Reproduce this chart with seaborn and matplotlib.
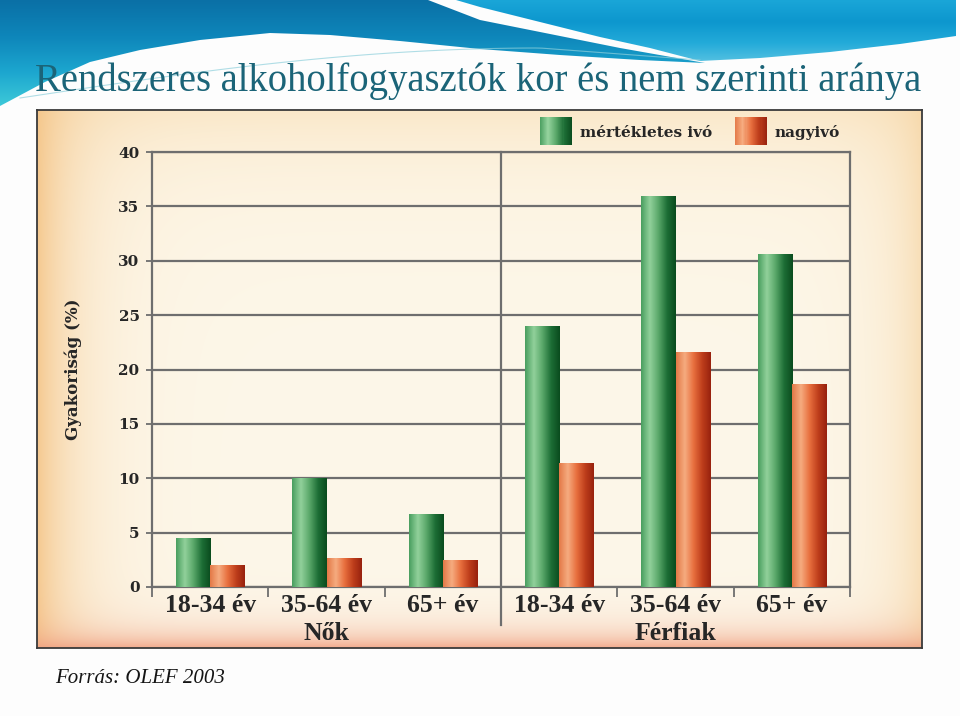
import numpy as np
import pandas as pd
import matplotlib
matplotlib.use("Agg")
import matplotlib.pyplot as plt
import seaborn as sns
from matplotlib.colors import LinearSegmentedColormap, to_rgb
from matplotlib.patches import Polygon, Rectangle
from matplotlib.legend_handler import HandlerBase
from matplotlib.ticker import FixedLocator
import matplotlib.transforms as mtransforms

# ---------------- data ----------------
title = "Rendszeres alkoholfogyasztók kor és nem szerinti aránya"
source = "Forrás: OLEF 2003"
age_labels = ["18-34 év", "35-64 év", "65+ év"]
sex_labels = ["Nők", "Férfiak"]
series_names = ["mértékletes ivó", "nagyivó"]
moderate_women = [4.55, 10.0, 6.75]
heavy_women = [2.0, 2.7, 2.5]
moderate_men = [24.0, 36.0, 30.6]
heavy_men = [11.4, 21.6, 18.7]
y_ticks = [0, 5, 10, 15, 20, 25, 30, 35, 40]
y_label = "Gyakoriság (%)"

rows = []
for sex, mod, hev in [(sex_labels[0], moderate_women, heavy_women),
                      (sex_labels[1], moderate_men, heavy_men)]:
    for age, m, h in zip(age_labels, mod, hev):
        key = f"{sex} {age}"
        rows.append({"kat": key, "nem": sex, "kor": age, "csoport": series_names[0], "ertek": m})
        rows.append({"kat": key, "nem": sex, "kor": age, "csoport": series_names[1], "ertek": h})
df = pd.DataFrame(rows)
order = [f"{s} {a}" for s in sex_labels for a in age_labels]

# ---------------- styles ----------------
green_flat = "#2f8a4a"
orange_flat = "#d9622f"
green_stops = ["#4a9f60", "#92d19b", "#5aa86a", "#1d6e36", "#0a4c1e"]
orange_stops = ["#e47a48", "#f6ac80", "#e8703f", "#bf3f1c", "#98220e"]
grid_c = "#6e6e6e"
serif_bold = dict(family="DejaVu Serif", fontweight="bold", color="#262626")
times_bold = dict(family="Liberation Serif", fontweight="bold", color="#262626")

W_PX, H_PX = 960, 716
fig = plt.figure(figsize=(9.6, 7.16), dpi=100)
fig.patch.set_facecolor("#fdfdfd")

# ---------------- background swoosh ----------------
bg = fig.add_axes([0, 0, 1, 1], zorder=-10)
bg.set_xlim(0, W_PX)
bg.set_ylim(H_PX, 0)
bg.axis("off")

def grad_fill(ax, poly_pts, colors, extent):
    poly = Polygon(poly_pts, closed=True, facecolor="none", edgecolor="none")
    ax.add_patch(poly)
    cmap = LinearSegmentedColormap.from_list("sw", colors)
    arr = cmap(np.linspace(0, 1, 128))[:, None, :]
    im = ax.imshow(arr, extent=extent, aspect="auto", origin="upper",
                   interpolation="bicubic", zorder=1)
    im.set_clip_path(poly)

left_pts = [(0, 0), (428, 0), (480, 20), (560, 36), (620, 48), (705, 63),
            (640, 60), (560, 55), (480, 49), (400, 41), (330, 35), (270, 33),
            (200, 40), (140, 50), (90, 62), (45, 82), (0, 106)]
grad_fill(bg, left_pts, ["#0a70a6", "#0e86ba", "#1ca6cf", "#3fcbd9"], [0, 710, 108, 0])

right_pts = [(456, 0), (956, 0), (956, 36), (900, 44), (830, 52), (760, 58),
             (700, 61), (650, 48), (600, 37), (540, 22), (480, 7)]
grad_fill(bg, right_pts, ["#1aa6d8", "#0d97ce", "#22aad9", "#59c3e2"], [440, 960, 64, 0])

# thin decorative line
xs = np.linspace(20, 700, 100)
ys = 98 - 50 * np.sin(np.clip((xs - 20) / 520, 0, 1) * np.pi / 2) + 12 * np.clip((xs - 540) / 160, 0, 1)
bg.plot(xs, ys, color="#8fd0dc", lw=0.8, alpha=0.7, zorder=2)

bg.set_xlim(0, W_PX)
bg.set_ylim(H_PX, 0)

fig.text(35 / W_PX, 1 - 91 / H_PX, title, ha="left", va="baseline",
         family="Liberation Serif", fontsize=27.8, color="#1b6478")
fig.text(55 / W_PX, 1 - 683 / H_PX, source, ha="left", va="baseline",
         family="Liberation Serif", fontstyle="italic", fontsize=15, color="#151515")

# ---------------- chart panel ----------------
px0, px1, py0, py1 = 37, 922, 110, 648
panel = fig.add_axes([px0 / W_PX, 1 - py1 / H_PX, (px1 - px0) / W_PX, (py1 - py0) / H_PX], zorder=-5)
PW, PH = px1 - px0, py1 - py0
yy, xx = np.mgrid[0:PH:270j, 0:PW:440j]
img = np.ones((270, 440, 3)) * np.array(to_rgb("#fdf7e9"))
for col, w in [("#f8dcb0", 0.55 * np.exp(-yy / 60)),
               ("#f4c282", 0.85 * np.exp(-xx / 40)),
               ("#f5cf98", 0.6 * np.exp(-(PW - xx) / 35)),
               ("#f0a182", 0.85 * np.exp(-(PH - yy) / 16))]:
    img = img * (1 - w[..., None]) + np.array(to_rgb(col)) * w[..., None]
panel.imshow(img, extent=[0, 1, 0, 1], aspect="auto", interpolation="bicubic")
panel.set_xticks([])
panel.set_yticks([])
for s in panel.spines.values():
    s.set_color("#3a3a3a")
    s.set_linewidth(1.3)

# ---------------- main plot ----------------
ax0, ax1, ay0, ay1 = 152, 850, 152, 587
ax = fig.add_axes([ax0 / W_PX, 1 - ay1 / H_PX, (ax1 - ax0) / W_PX, (ay1 - ay0) / H_PX], zorder=1)
ax.set_facecolor("none")

sns.barplot(data=df, x="kat", y="ertek", hue="csoport", order=order,
            hue_order=series_names, palette=[green_flat, orange_flat],
            width=0.585, saturation=1, edgecolor="none", linewidth=0,
            legend=False, ax=ax, zorder=3)

gcmap = LinearSegmentedColormap.from_list("g", green_stops)
ocmap = LinearSegmentedColormap.from_list("o", orange_stops)
garr = gcmap(np.linspace(0, 1, 64))[None, :, :]
oarr = ocmap(np.linspace(0, 1, 64))[None, :, :]
gref = np.array(to_rgb(green_flat))
for p in list(ax.patches):
    if p.get_height() <= 0:
        continue
    fc = np.array(p.get_facecolor()[:3])
    arr = garr if np.allclose(fc, gref, atol=0.02) else oarr
    x0, w, y0, h = p.get_x(), p.get_width(), p.get_y(), p.get_height()
    im = ax.imshow(arr, extent=[x0, x0 + w, y0, y0 + h], aspect="auto",
                   interpolation="bilinear", zorder=3.5)
    im.set_clip_path(p)

ax.set_xlim(-0.5, 5.5)
ax.set_ylim(0, 40)

ax.set_yticks(y_ticks)
ax.set_yticklabels([str(t) for t in y_ticks], **serif_bold, fontsize=11)
ax.yaxis.grid(True, color=grid_c, lw=1.6)
ax.xaxis.grid(False)
ax.set_axisbelow(True)
for s in ax.spines.values():
    s.set_visible(True)
    s.set_color(grid_c)
    s.set_linewidth(1.6)
ax.tick_params(axis="y", length=4, width=1.3, color=grid_c, pad=5)

ax.set_xticks(range(len(order)))
ax.set_xticklabels(age_labels * 2, **times_bold, fontsize=18.5)
ax.tick_params(axis="x", which="major", length=0, pad=5)
ax.xaxis.set_minor_locator(FixedLocator([-0.5, 0.5, 1.5, 3.5, 4.5, 5.5]))
ax.tick_params(axis="x", which="minor", length=7, width=1.3, color=grid_c)

ax.set_xlabel("")
ax.set_ylabel(y_label, **serif_bold, fontsize=12)
ax.yaxis.set_label_coords(-0.1, 0.5)

# group separator
ax.axvline(2.5, ymin=-0.087, ymax=1, color=grid_c, lw=1.6, clip_on=False, zorder=4)

trans = mtransforms.blended_transform_factory(ax.transData, ax.transAxes)
ax.text(1, -0.107, sex_labels[0], transform=trans, ha="center", va="center", **times_bold, fontsize=18.5)
ax.text(4, -0.107, sex_labels[1], transform=trans, ha="center", va="center", **times_bold, fontsize=18.5)

# ---------------- legend ----------------
class GradHandler(HandlerBase):
    def __init__(self, cmap):
        super().__init__()
        self.cmap = cmap

    def create_artists(self, legend, orig_handle, xdescent, ydescent, width, height, fontsize, trans):
        n = 30
        arts = []
        h = 28 * 72 / 100.0  # ~28 px tall swatch
        yb = -ydescent + height / 2 - h / 2
        for i in range(n):
            r = Rectangle((-xdescent + width * i / n, yb), width / n * 1.08, h,
                          facecolor=self.cmap((i + 0.5) / n), edgecolor="none", transform=trans)
            arts.append(r)
        return arts

hg = Rectangle((0, 0), 1, 1)
ho = Rectangle((0, 0), 1, 1)
leg = fig.legend([hg, ho], series_names, handler_map={hg: GradHandler(gcmap), ho: GradHandler(ocmap)},
                 loc="center left", bbox_to_anchor=(540 / W_PX, 1 - 132 / H_PX), ncol=2,
                 frameon=False, handlelength=2.1, handleheight=1.0, handletextpad=0.5,
                 columnspacing=1.5, borderpad=0, borderaxespad=0,
                 prop=dict(family="DejaVu Serif", weight="bold", size=11))
for t in leg.get_texts():
    t.set_color("#262626")

fig.savefig("out.png", dpi=100, facecolor=fig.get_facecolor())
